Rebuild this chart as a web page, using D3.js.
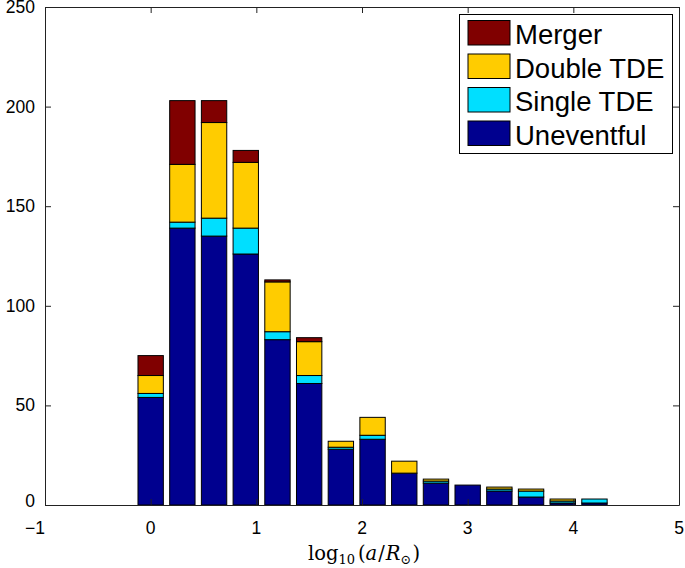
<!DOCTYPE html>
<html><head><meta charset="utf-8">
<script src="https://cdn.jsdelivr.net/npm/d3@7"></script>
<style>body{margin:0;background:#fff;} svg{display:block;}</style>
</head><body>
<svg id="c" width="685" height="568"></svg>
<script>
const binCenters = [0, 0.3, 0.6, 0.9, 1.2, 1.5, 1.8, 2.1, 2.4, 2.7, 3.0, 3.3, 3.6, 3.9, 4.2];
const uneventful = [54, 139, 135, 126, 83, 61, 28, 33, 16, 11, 10, 7, 4, 1, 1];
const singleTDE  = [2, 3, 9, 13, 4, 4, 1, 2, 0, 1, 0, 1, 3, 1, 2];
const doubleTDE  = [9, 29, 48, 33, 25, 17, 3, 9, 6, 1, 0, 1, 1, 1, 0];
const merger     = [10, 32, 11, 6, 1, 2, 0, 0, 0, 0, 0, 0, 0, 0, 0];
const seriesNames = ["Uneventful", "Single TDE", "Double TDE", "Merger"];
const seriesColors = ["#00008f", "#00dfff", "#ffcc00", "#800000"];
const xTicks = [-1, 0, 1, 2, 3, 4, 5];
const yTicks = [0, 50, 100, 150, 200, 250];
const binWidth = 0.3;

const svg = d3.select("#c");
const x = d3.scaleLinear().domain([-1, 5]).range([45, 679]);
const y = d3.scaleLinear().domain([0, 250]).range([505, 7]);

const table = binCenters.map((c, i) => ({
  c, Uneventful: uneventful[i], "Single TDE": singleTDE[i], "Double TDE": doubleTDE[i], Merger: merger[i]
}));
const stacked = d3.stack().keys(seriesNames)(table);
const bw = binWidth * 0.8;

stacked.forEach((layer, li) => {
  svg.append("g").selectAll("rect").data(layer.filter(d => d[1] > d[0])).join("rect")
    .attr("x", d => x(d.data.c - bw / 2))
    .attr("width", d => x(d.data.c + bw / 2) - x(d.data.c - bw / 2))
    .attr("y", d => y(d[1]))
    .attr("height", d => y(d[0]) - y(d[1]))
    .attr("fill", seriesColors[li])
    .attr("stroke", "#000")
    .attr("stroke-width", 1);
});

// Axes box with inward ticks on all sides
const font = "'Liberation Sans', Arial, Helvetica, sans-serif";
const tl = 6;
const ax = svg.append("g");
const axB = d3.axisBottom(x).tickValues(xTicks).tickSizeInner(-tl).tickSizeOuter(0).tickFormat("");
const axT = d3.axisTop(x).tickValues(xTicks).tickSizeInner(-tl).tickSizeOuter(0).tickFormat("");
const axL = d3.axisLeft(y).tickValues(yTicks).tickSizeInner(-tl).tickSizeOuter(0).tickFormat("");
const axR = d3.axisRight(y).tickValues(yTicks).tickSizeInner(-tl).tickSizeOuter(0).tickFormat("");
ax.append("g").attr("transform", "translate(0,505)").call(axB);
ax.append("g").attr("transform", "translate(0,7)").call(axT);
ax.append("g").attr("transform", "translate(45,0)").call(axL);
ax.append("g").attr("transform", "translate(679,0)").call(axR);
ax.selectAll(".domain").attr("stroke", "#222");
ax.selectAll(".tick line").attr("stroke", "#222");

// Tick labels
svg.append("g").selectAll("text").data(xTicks).join("text")
  .attr("x", d => x(d))
  .attr("y", 534)
  .attr("text-anchor", d => d < 0 ? "end" : "middle")
  .attr("font-family", font).attr("font-size", 17.5).attr("fill", "#000")
  .text(d => d < 0 ? "\u2212" + Math.abs(d) : d);
svg.append("g").selectAll("text").data(yTicks).join("text")
  .attr("x", 35)
  .attr("y", d => y(d) + (d === 0 ? 2 : 6))
  .attr("text-anchor", "end")
  .attr("font-family", font).attr("font-size", 17.5).attr("fill", "#000")
  .text(d => d);

// X axis label
const xl = svg.append("text").attr("x", 364).attr("y", 560).attr("text-anchor", "middle")
  .attr("font-family", "'DejaVu Serif', 'Liberation Serif', serif").attr("font-size", 19.5).attr("fill", "#000");
xl.append("tspan").text("log");
xl.append("tspan").attr("font-size", 13).attr("dy", 4).text("10");
xl.append("tspan").attr("dy", -4).attr("dx", 3).text("(");
xl.append("tspan").attr("font-style", "italic").text("a");
xl.append("tspan").attr("dx", 1).text("/");
xl.append("tspan").attr("dx", 1).attr("font-style", "italic").text("R");
xl.append("tspan").attr("font-size", 13).attr("dy", 4).text("\u2299");
xl.append("tspan").attr("dy", -4).attr("dx", 1).text(")");

// Legend
const lg = svg.append("g");
lg.append("rect").attr("x", 459.5).attr("y", 14.5).attr("width", 213).attr("height", 139)
  .attr("fill", "#fff").attr("stroke", "#000").attr("stroke-width", 1);
const legendOrder = [3, 2, 1, 0];
legendOrder.forEach((si, r) => {
  const yy = 20.5 + r * 33.5;
  lg.append("rect").attr("x", 468).attr("y", yy).attr("width", 42).attr("height", 24.5)
    .attr("fill", seriesColors[si]).attr("stroke", "#000").attr("stroke-width", 1);
  lg.append("text").attr("x", 515).attr("y", yy + 23.5)
    .attr("font-family", font).attr("font-size", 27.5).attr("fill", "#000")
    .text(seriesNames[si]);
});
</script>
</body></html>
